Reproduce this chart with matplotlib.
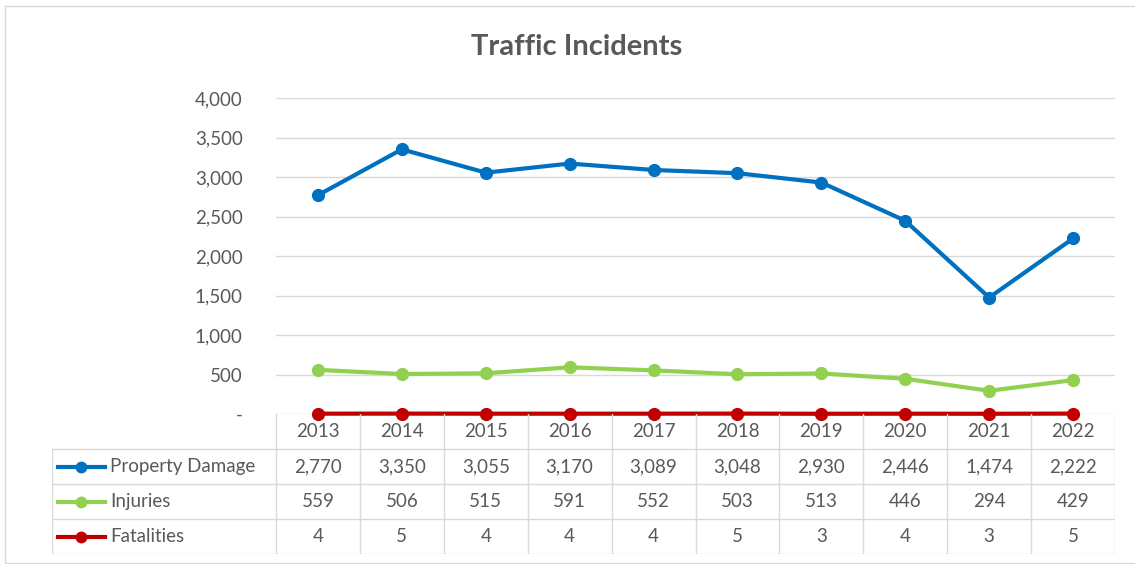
import matplotlib.pyplot as plt
from matplotlib.patches import Rectangle
from matplotlib.lines import Line2D

years = ['2013', '2014', '2015', '2016', '2017', '2018', '2019', '2020', '2021', '2022']
property_damage = [2770, 3350, 3055, 3170, 3089, 3048, 2930, 2446, 1474, 2222]
injuries = [559, 506, 515, 591, 552, 503, 513, 446, 294, 429]
fatalities = [4, 5, 4, 4, 4, 5, 3, 4, 3, 5]
series_names = ['Property Damage', 'Injuries', 'Fatalities']
colors = ['#0070C0', '#92D050', '#C00000']
yticks = [0, 500, 1000, 1500, 2000, 2500, 3000, 3500, 4000]

W, H = 1135, 564
plt.rcParams['font.family'] = ['Lato', 'DejaVu Sans']
txt = '#595959'
grid_c = '#d9d9d9'
fs = 13.5


def px_box(x0, y0, x1, y1):
    # pixel box (top-left origin) -> figure fraction rect
    return [x0 / W, (H - y1) / H, (x1 - x0) / W, (y1 - y0) / H]


fig = plt.figure(figsize=(W / 100, H / 100), dpi=100)
fig.patches.append(Rectangle((5 / W, 1 / H), 1.2, (H - 7) / H, transform=fig.transFigure,
                             fill=False, edgecolor=grid_c, lw=1))
fig.text(577 / W, 1 - 47 / H, 'Traffic Incidents', ha='center', va='center',
         fontsize=21, fontweight='bold', color=txt)

ax = fig.add_axes(px_box(276, 98, 1115, 414))
x = list(range(len(years)))
data = [property_damage, injuries, fatalities]
for vals, c in zip(data, colors):
    ax.plot(x, vals, color=c, lw=3, marker='o', markersize=8.5, clip_on=False, zorder=3)
ax.set_xlim(-0.5, len(years) - 0.5)
ax.set_ylim(0, 4000)
ax.set_yticks(yticks)
ax.set_yticklabels(['-'] + [f'{v:,}' for v in yticks[1:]])
ax.tick_params(axis='y', length=0, pad=24, labelsize=fs, labelcolor=txt)
ax.set_xticks([])
ax.grid(axis='y', color=grid_c, lw=1)
ax.set_axisbelow(True)
for s in ax.spines.values():
    s.set_visible(False)

# data table
tb = fig.add_axes(px_box(52, 414, 1115, 554))
lab_w = (276 - 52) / ((1115 - 276) / len(years))
tb.set_xlim(-0.5 - lab_w, len(years) - 0.5)
tb.set_ylim(4, 0)
tb.axis('off')
x0 = -0.5 - lab_w
xr = len(years) - 0.5
lk = dict(color=grid_c, lw=1)
for r in range(1, 5):
    tb.plot([x0, xr], [r, r], **lk)
tb.plot([x0, x0], [1, 4], **lk)
for i in range(len(years) + 1):
    tb.plot([i - 0.5, i - 0.5], [0, 4], **lk)
for i, yr in enumerate(years):
    tb.text(i, 0.5, yr, ha='center', va='center', fontsize=fs, color=txt)
for r, (name, vals, c) in enumerate(zip(series_names, data, colors), start=1):
    for i, v in enumerate(vals):
        tb.text(i, r + 0.5, f'{v:,}', ha='center', va='center', fontsize=fs, color=txt)
    tb.add_line(Line2D([x0 + 0.07, x0 + 0.35, x0 + 0.63], [r + 0.5] * 3, color=c, lw=3,
                       marker='o', markevery=[1], markersize=7.5))
    tb.text(x0 + 0.69, r + 0.5, name, ha='left', va='center', fontsize=fs, color=txt)

fig.savefig('out.png', dpi=100)
